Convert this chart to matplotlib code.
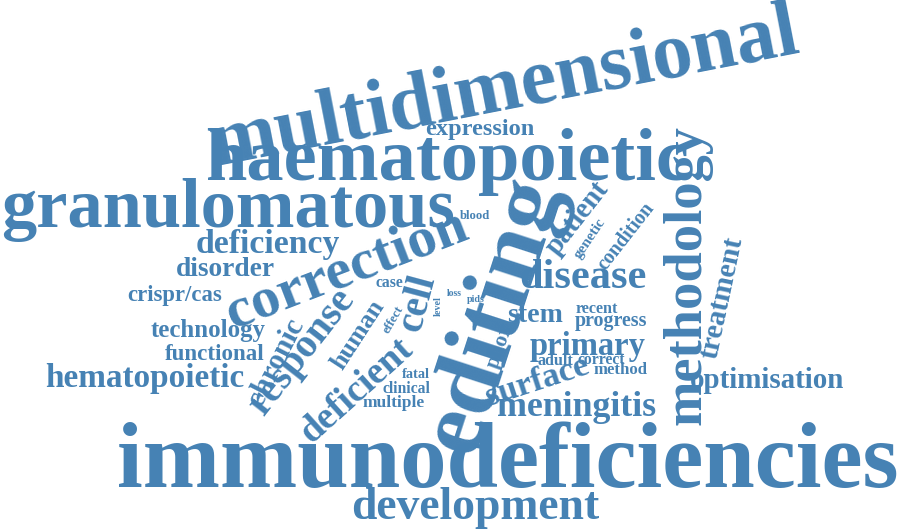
import matplotlib
matplotlib.use('Agg')
import matplotlib.pyplot as plt

words = ['multidimensional', 'haematopoietic', 'granulomatous', 'immunodeficiencies',
         'editing', 'methodology', 'correction', 'development', 'disease', 'response',
         'deficient', 'meningitis', 'surface', 'primary', 'stem', 'chronic', 'human',
         'cell', 'phox', 'patient', 'genetic', 'condition', 'treatment', 'optimisation',
         'hematopoietic', 'functional', 'technology', 'crispr/cas', 'disorder',
         'deficiency', 'expression', 'blood', 'case', 'loss', 'level', 'pids', 'effect',
         'fatal', 'clinical', 'multiple', 'recent', 'progress', 'adult', 'correct', 'method']
# layout in pixels: centre x, centre y, length along baseline, rotation
xs = [505, 447, 228, 508, 495, 688, 347, 475, 583, 302, 357, 577, 537, 588, 535, 276, 358,
      418, 500, 577, 590, 626, 722, 767, 145, 215, 208, 175, 225, 268, 480, 475, 389, 454,
      438, 476, 393, 416, 406, 394, 597, 611, 555, 601, 620]
ys = [90, 162, 210, 465, 315, 275, 270, 508, 278, 352, 390, 408, 381, 346, 315, 362, 335,
      303, 346, 218, 238, 236, 298, 380, 379, 354, 330, 295, 270, 244, 130, 216, 283, 293,
      306, 300, 320, 375, 389, 403, 309, 321, 361, 360, 370]
lengths = [600, 485, 455, 785, 285, 300, 255, 250, 128, 150, 140, 160, 108, 117, 56, 95, 78,
           58, 46, 86, 46, 80, 125, 155, 200, 100, 115, 95, 100, 145, 110, 30, 28, 15,
           20, 18, 30, 28, 48, 62, 43, 73, 36, 48, 54]
rots = [11, 0, 0, 0, 72, 90, 21, 0, 0, 52, 42, 0, 18, 0, 0, 63, 57, 75, 70, 52, 56, 52,
        78, 0, 0, 0, 0, 0, 0, 0, 0, 0, 0, 0, 90, 0, 60, 0, 0, 0, 0, 0, 0, 0, 0]

color = '#4682B4'
fig = plt.figure(figsize=(9, 5.31), dpi=100)
ax = fig.add_axes([0, 0, 1, 1])
ax.set_xlim(0, 900)
ax.set_ylim(531, 0)
ax.axis('off')
r = fig.canvas.get_renderer()
for w, x, y, L, rot in zip(words, xs, ys, lengths, rots):
    t = ax.text(x, y, w, fontsize=10, family='Liberation Serif', weight='bold',
                color=color, ha='center', va='center', rotation=0,
                rotation_mode='anchor')
    wd = t.get_window_extent(r).width
    t.set_fontsize(10 * L / wd)
    t.set_rotation(rot)
fig.savefig('out.png', dpi=100)
